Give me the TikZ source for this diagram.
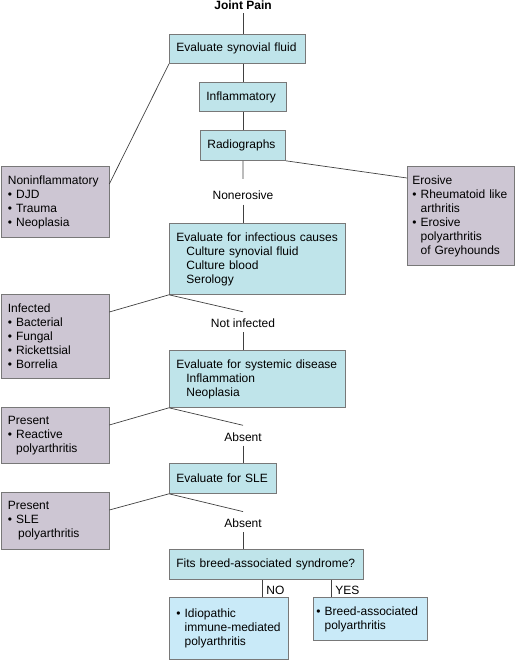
\documentclass[tikz,border=0pt]{standalone}
\usepackage{fontspec}
\setmainfont{Liberation Sans}
\usepackage{tikz}
\usetikzlibrary{arrows,positioning,calc}
\definecolor{evalblue}{RGB}{191,228,234}
\definecolor{resgrey}{RGB}{205,198,211}
\definecolor{endblue}{RGB}{201,234,248}
\definecolor{edgegrey}{RGB}{120,120,120}
\tikzstyle{box}=[draw=edgegrey,line width=0.8pt,fill=evalblue,rectangle,inner xsep=7pt,inner ysep=0pt,align=left,anchor=north west]
\tikzstyle{result}=[box,fill=resgrey]
\tikzstyle{outcome}=[box,fill=endblue]
\tikzstyle{branch}=[inner sep=0pt,text height=15.5pt,text depth=4.5pt,anchor=base]
\tikzstyle{link}=[draw=black!75,line width=0.7pt]
\newcommand{\itm}{\textbullet\ }
\newcommand{\cont}{\phantom{\textbullet\ }}
\newcommand{\subln}{\hspace*{10pt}}

\begin{document}
\begin{tikzpicture}[x=1pt,y=-1pt,font=\fontsize{12}{14}\selectfont]
\useasboundingbox (0,0) rectangle (516,660);
% main column
\node [anchor=base,inner sep=3pt,font=\fontsize{12}{14}\selectfont\bfseries] (jp) at (243,10) {Joint Pain};
\node [box, text width=122pt, minimum height=29pt] (syn) at (169,34) {Evaluate synovial fluid};
\node [box, text width=73pt, minimum height=29pt] (infl) at (199,82) {Inflammatory};
\node [box, text width=71pt, minimum height=30pt] (rad) at (200,130) {Radiographs};
\node [branch, text height=21pt] (nonero) at (243,200) {Nonerosive};
\node [box, text width=162pt, minimum height=71pt] (inf) at (169,223) {Evaluate for infectious causes\\
  \subln Culture synovial fluid\\ \subln Culture blood\\ \subln Serology};
\node [branch] (notinf) at (243,327.5) {Not infected};
\node [box, text width=162pt, minimum height=57pt] (sys) at (169,350) {Evaluate for systemic disease\\
  \subln Inflammation\\ \subln Neoplasia};
\node [branch] (abs1) at (243,441) {Absent};
\node [box, text width=93pt, minimum height=30pt] (sle) at (169,463) {Evaluate for SLE};
\node [branch] (abs2) at (243,527.3) {Absent};
\node [box, text width=180pt, minimum height=30pt] (fits) at (169,549) {Fits breed-associated syndrome?};
% side results
\node [result, text width=94pt, minimum height=71pt] (nonin) at (0.5,166) {Noninflammatory\\ \itm DJD\\ \itm Trauma\\ \itm Neoplasia};
\node [result, inner xsep=5pt, text width=97pt, minimum height=99pt] (ero) at (407,166) {Erosive\\
  \itm Rheumatoid like\\ \cont arthritis\\ \itm Erosive\\ \cont polyarthritis\\ \cont of Greyhounds};
\node [result, text width=94pt, minimum height=84pt] (infd) at (0.5,294) {Infected\\ \itm Bacterial\\ \itm Fungal\\ \itm Rickettsial\\ \itm Borrelia};
\node [result, text width=94pt, minimum height=56pt] (pres1) at (0.5,407) {Present\\ \itm Reactive\\ \cont polyarthritis};
\node [result, text width=94pt, minimum height=57pt] (pres2) at (0.5,492) {Present\\ \itm SLE\\ \cont\hspace*{2pt}polyarthritis};
% end points
\node [outcome, text width=105pt, minimum height=62pt] (idio) at (169,597) {\itm Idiopathic\\ \cont immune-mediated\\ \cont polyarthritis};
\node [outcome, inner xsep=3pt, text width=108pt, minimum height=43pt] (breed) at (313,597) {\itm Breed-associated\\ \cont polyarthritis};
\coordinate (nopt) at ([xshift=93pt]fits.south west);
\coordinate (yespt) at ([xshift=162pt]fits.south west);
% connectors
\draw [link] (jp.south) -- (jp.south |- syn.north);
\draw [link] (infl.north |- syn.south) -- (infl.north);
\draw [link] (rad.north |- infl.south) -- (rad.north);
\draw [link] (rad.south) -- (nonero.north);
\draw [link] (nonero.south) -- (nonero.south |- inf.north);
\draw [link] (syn.south west) -- ([yshift=-18pt]nonin.north east);
\draw [link] (rad.south east) -- ([yshift=-12pt]ero.north west);
\draw [link] ([yshift=-18pt]infd.north east) -- (inf.south west) -- (notinf.north);
\draw [link] (notinf.south) -- (notinf.south |- sys.north);
\draw [link] ([yshift=-18pt]pres1.north east) -- (sys.south west) -- (abs1.north);
\draw [link] (abs1.south) -- (abs1.south |- sle.north);
\draw [link] ([yshift=-18pt]pres2.north east) -- (sle.south west) -- (abs2.north);
\draw [link] (abs2.south) -- (abs2.south |- fits.north);
\draw [link] (nopt) -- (nopt |- idio.north) node [pos=0.6, anchor=west, inner xsep=4pt, inner ysep=0pt] (no) {NO};
\draw [link] (yespt) -- (yespt |- breed.north) node [pos=0.6, anchor=west, inner xsep=4pt, inner ysep=0pt] (yes) {YES};
\end{tikzpicture}
\end{document}
